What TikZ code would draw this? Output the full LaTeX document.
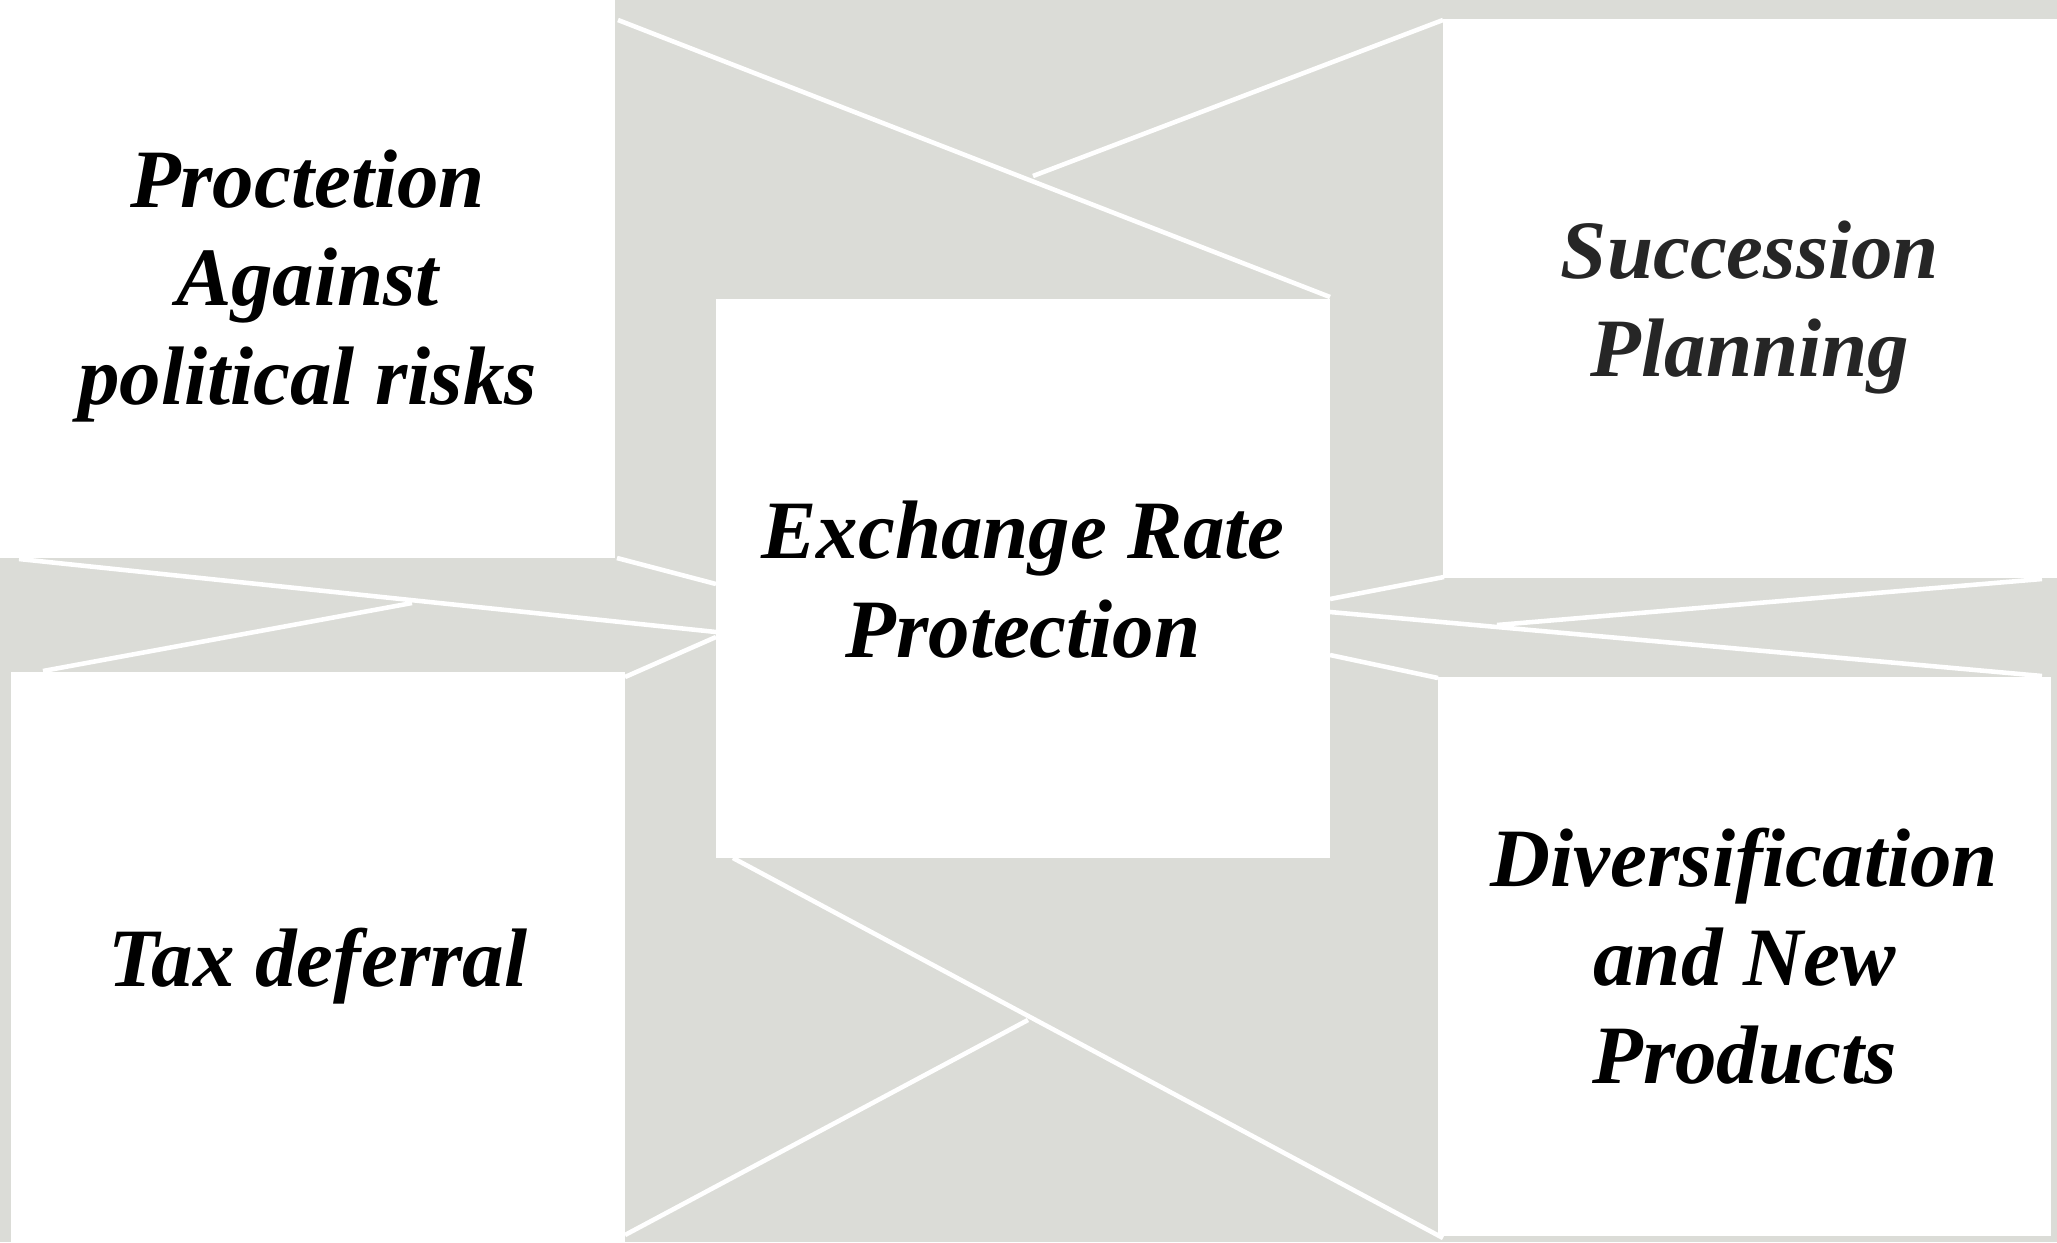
\documentclass[tikz,border=0pt]{standalone}
\usepackage{fontspec}
\setmainfont{Liberation Serif}
\definecolor{bggray}{RGB}{219,220,215}
\definecolor{darktext}{RGB}{38,38,38}
\begin{document}
\begin{tikzpicture}[x=0.01cm,y=-0.01cm,
  box/.style={fill=white, draw=none, inner sep=0pt},
  lbl/.style={inner sep=0pt, align=center,
    font=\fontsize{23.6}{28}\selectfont\bfseries\itshape},
  link/.style={draw=white, line width=1.3pt}]
\fill[bggray] (0,0) rectangle (2057,1242);
\useasboundingbox (0,0) rectangle (2057,1242);

% connector end points
\coordinate (p1) at (618,20);
\coordinate (p2) at (1330,297);
\coordinate (m1) at (1033,176);
\coordinate (p3) at (1443,20);
\coordinate (p4) at (617,558);
\coordinate (p5) at (716,584);
\coordinate (p6) at (19,559);
\coordinate (p7) at (716,632);
\coordinate (m2) at (412,603);
\coordinate (p8) at (43,671);
\coordinate (p9) at (625,677);
\coordinate (p10) at (716,637);
\coordinate (p11) at (1330,599);
\coordinate (p12) at (1444,577);
\coordinate (p13) at (1330,612);
\coordinate (p14) at (2042,676);
\coordinate (m3) at (1497,625);
\coordinate (p15) at (2042,579);
\coordinate (p16) at (1330,655);
\coordinate (p17) at (1438,678);
\coordinate (p18) at (733,858);
\coordinate (p19) at (1443,1238);
\coordinate (m4) at (1028,1020);
\coordinate (p20) at (625,1235);

\draw[link] (p1) -- (p2);
\draw[link] (m1) -- (p3);
\draw[link] (p4) -- (p5);
\draw[link] (p6) -- (p7);
\draw[link] (p8) -- (m2);
\draw[link] (p9) -- (p10);
\draw[link] (p11) -- (p12);
\draw[link] (p13) -- (p14);
\draw[link] (m3) -- (p15);
\draw[link] (p16) -- (p17);
\draw[link] (p18) -- (p19);
\draw[link] (m4) -- (p20);

% boxes
\node[box, minimum width=6.15cm, minimum height=5.58cm] (tl) at (307.5,279) {};
\node[box, minimum width=6.14cm, minimum height=5.59cm] (tr) at (1750,298.5) {};
\node[box, minimum width=6.14cm, minimum height=5.59cm] (c) at (1023,578.5) {};
\node[box, minimum width=6.14cm, minimum height=5.70cm] (bl) at (318,957) {};
\node[box, minimum width=6.13cm, minimum height=5.59cm] (br) at (1744.5,956.5) {};

% labels
\node[lbl] (tlt) at ([yshift=-0.07cm]tl.center) {Proctetion\\Against\\political risks};
\node[lbl, text=darktext] (trt) at ([yshift=-0.09cm]tr.center) {Succession\\Planning};
\node[lbl] (ct) at ([yshift=-0.01cm]c.center) {Exchange Rate\\Protection};
\node[lbl] (blt) at ([yshift=-0.09cm]bl.center) {Tax deferral};
\node[lbl] (brt) at (br.center) {Diversification\\and New\\Products};
\end{tikzpicture}
\end{document}
